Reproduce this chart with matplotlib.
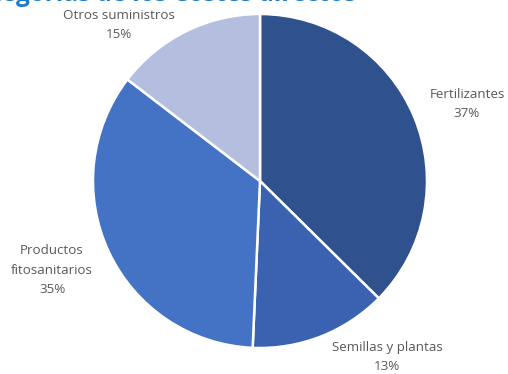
import matplotlib.pyplot as plt

categorias = ['Fertilizantes', 'Semillas y plantas', 'Productos\nfitosanitarios', 'Otros suministros']
valores = [37.4, 13.3, 34.7, 14.6]
colores = ['#2F528F', '#3A62B0', '#4472C4', '#B4BFE0']
titulo = 'Categorías de los Costes directos'

W, H = 508, 374
fig = plt.figure(figsize=(W / 100, H / 100), dpi=100)
ax = fig.add_axes([0, 0, 1, 1])

cx, cy, r = 260, H - 181, 167
wedges, _ = ax.pie(valores, colors=colores, startangle=90, counterclock=False,
                   center=(cx, cy), radius=r, frame=True,
                   wedgeprops=dict(edgecolor='white', linewidth=1.8))
ax.set_xlim(0, W)
ax.set_ylim(0, H)
ax.set_aspect('equal')
ax.axis('off')

# etiquetas (centro de cada bloque, en pixeles de la imagen)
pos = [(467, 104), (387, 357), (52, 270), (119, 25)]
font = ['Open Sans', 'DejaVu Sans']
for cat, v, (x, y) in zip(categorias, valores, pos):
    ax.text(x, H - y, f'{cat}\n{v:.0f}%', ha='center', va='center',
            fontsize=9.6, color='#595959', family=font, linespacing=1.65)

ax.text(356, H - 0.5, titulo, ha='right', va='baseline', fontsize=17.5,
        fontweight='bold', color='#1E7BC6', family=font)

fig.savefig('out.png', dpi=100)
